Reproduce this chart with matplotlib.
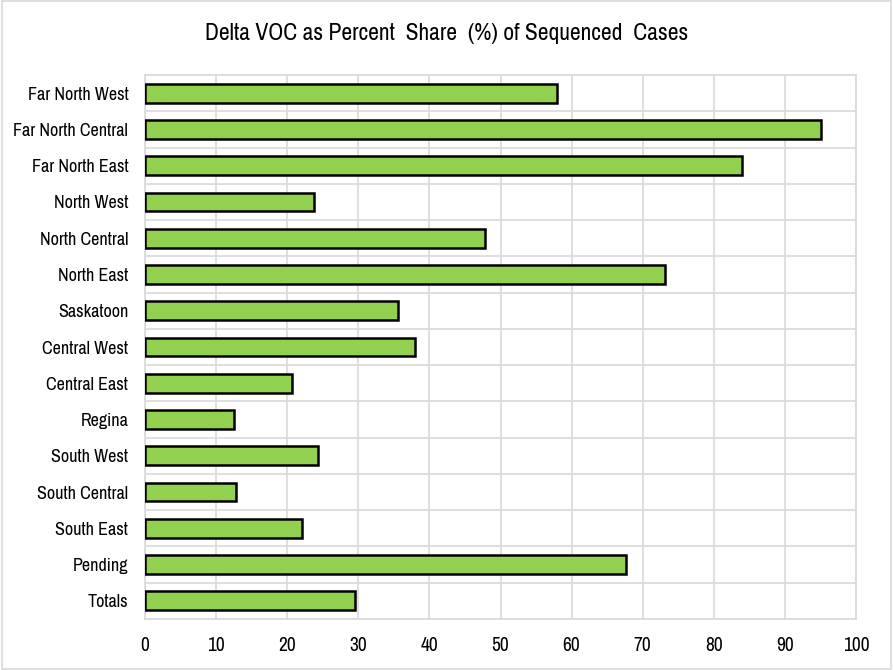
import matplotlib
matplotlib.use("Agg")
import matplotlib.pyplot as plt
from matplotlib import font_manager
import numpy as np

regions = ["Far North West", "Far North Central", "Far North East", "North West",
           "North Central", "North East", "Saskatoon", "Central West", "Central East",
           "Regina", "South West", "South Central", "South East", "Pending", "Totals"]
values = [57.9, 95.1, 84.0, 23.8, 47.8, 73.1, 35.6, 38.0, 20.7, 12.5, 24.3, 12.8, 22.1, 67.6, 29.5]
xticks = list(range(0, 101, 10))

names = sorted({f.name for f in font_manager.fontManager.ttflist})
narrow = [n for n in names if "Narrow" in n or "Condensed" in n]
fam = narrow[0] if narrow else "DejaVu Sans"
plt.rcParams['font.family'] = [fam, 'DejaVu Sans']
plt.rcParams['font.stretch'] = 'condensed'

fig = plt.figure(figsize=(8.93, 6.70), dpi=100)
ax = fig.add_axes([145/893, 1-619/670, (856-145)/893, (619-75)/670])

y = np.arange(len(regions))
ax.barh(y, values, height=0.52, color="#92d050", edgecolor="black", linewidth=1.8, zorder=3)
ax.set_ylim(len(regions)-0.5, -0.5)
ax.set_xlim(0, 100)
ax.set_xticks(xticks)
ax.set_yticks(y)
lbl_size = 13 if narrow else 10.5
ax.set_yticklabels(regions, fontsize=lbl_size)
ax.set_yticks(np.arange(-0.5, len(regions), 1), minor=True)
ax.tick_params(axis='x', labelsize=14 if narrow else 11, length=0, pad=12)
ax.tick_params(axis='y', which='both', length=0, pad=12)
ax.grid(axis='x', color="#d9d9d9", linewidth=1.2, zorder=0)
ax.grid(axis='y', which='minor', color="#d9d9d9", linewidth=1.2, zorder=0)
ax.grid(axis='y', which='major', visible=False)
for s in ax.spines.values():
    s.set_color("#d9d9d9")
    s.set_linewidth(1.2)

fig.text(447/893, 1-33/670, "Delta VOC as Percent  Share  (%) of Sequenced  Cases",
         ha="center", va="center", fontsize=17 if narrow else 13.5)
fig.patches.append(plt.Rectangle((0.002, 0.002), 0.996, 0.996, transform=fig.transFigure,
                                 fill=False, edgecolor="#d9d9d9", linewidth=1.2))
fig.savefig("out.png", dpi=100)
